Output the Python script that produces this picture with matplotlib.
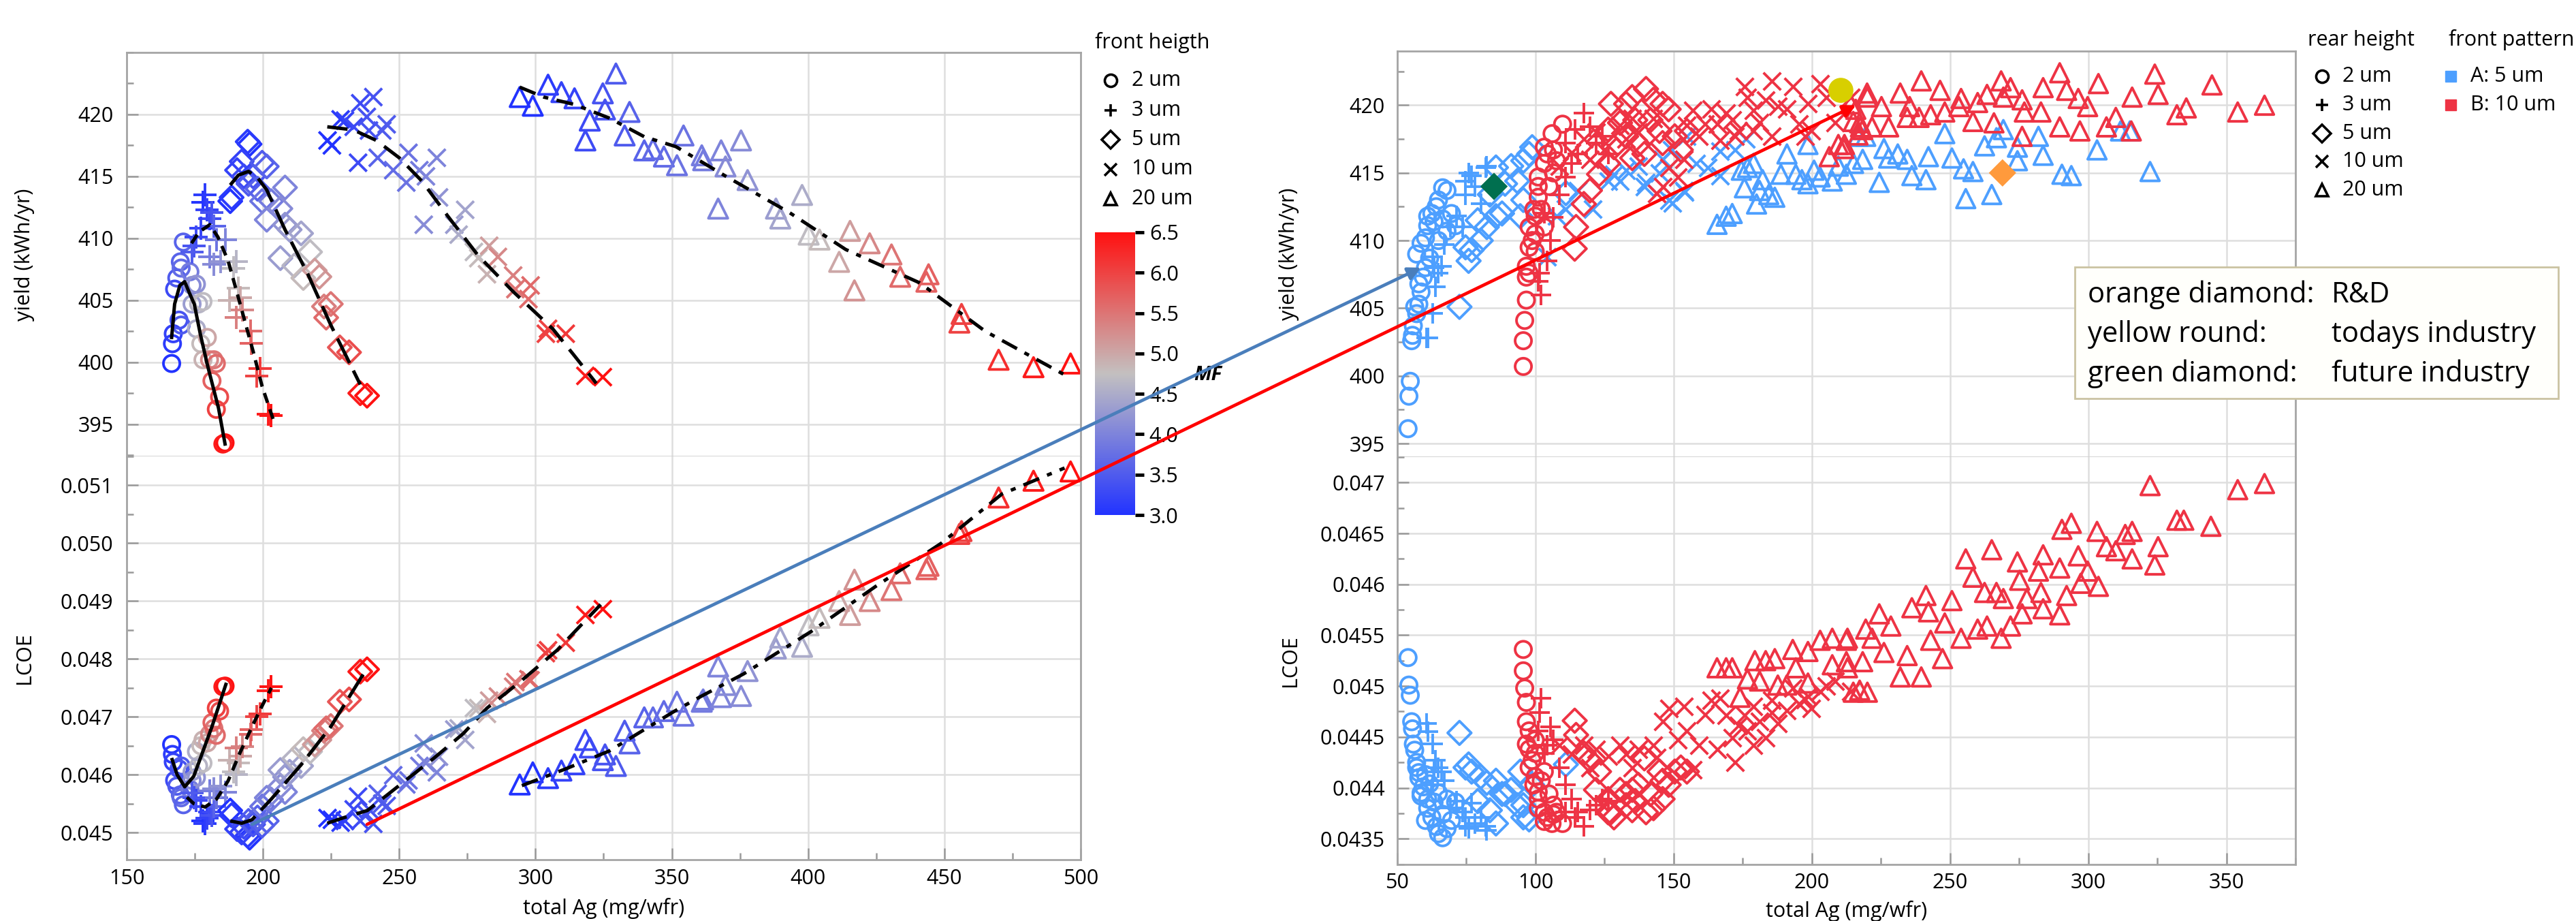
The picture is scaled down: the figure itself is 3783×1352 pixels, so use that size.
import numpy as np
import matplotlib
matplotlib.use("Agg")
import matplotlib.pyplot as plt
from matplotlib.colors import LinearSegmentedColormap, Normalize
from matplotlib.cm import ScalarMappable
from matplotlib.lines import Line2D
from matplotlib.patches import Rectangle, ConnectionPatch
from matplotlib.ticker import MultipleLocator, FixedLocator, FuncFormatter, FormatStrFormatter

W, H = 3783, 1352
plt.rcParams['font.family'] = ['Open Sans', 'DejaVu Sans']
plt.rcParams['font.size'] = 22

# ---------------- left panel: front height groups (total Ag, yield, LCOE, MF)
fh_2um = [(166.5, 399.9, 0.04652, 3.0), (166.8, 401.5, 0.04635, 3.1), (167.1, 402.3, 0.04622, 3.2),
          (167.6, 405.9, 0.04590, 3.3), (168.4, 406.8, 0.04580, 3.5), (169.2, 403.4, 0.04610, 3.4),
          (169.7, 408.1, 0.04565, 3.6), (170.0, 407.6, 0.04560, 3.7), (170.8, 409.7, 0.04548, 3.6),
          (170.0, 403.0, 0.04615, 3.5), (173.2, 407.3, 0.04575, 3.9), (174.0, 406.2, 0.04590, 4.1),
          (175.6, 406.3, 0.04595, 4.2), (174.0, 404.7, 0.04605, 4.3), (176.4, 404.7, 0.04615, 4.6),
          (178.0, 404.9, 0.04620, 4.7), (175.6, 402.7, 0.04640, 4.5), (177.2, 401.5, 0.04650, 4.8),
          (178.0, 400.2, 0.04660, 4.9), (179.6, 402.0, 0.04655, 5.0), (180.4, 400.2, 0.04670, 5.3),
          (182.0, 400.2, 0.04680, 5.5), (182.9, 399.9, 0.04668, 5.6), (181.3, 398.5, 0.04690, 5.7),
          (184.1, 397.2, 0.04710, 5.9), (182.9, 396.2, 0.04715, 6.0), (186.1, 393.5, 0.04753, 6.5),
          (185.3, 393.4, 0.04752, 6.4)]
fh_3um = [(178.0, 412.9, 0.04520, 3.0), (178.8, 413.5, 0.04515, 3.1), (179.6, 412.3, 0.04525, 3.2),
          (180.4, 411.6, 0.04535, 3.3), (177.2, 410.8, 0.04545, 3.2), (175.6, 410.1, 0.04555, 3.3),
          (174.8, 409.4, 0.04560, 3.4), (174.0, 408.9, 0.04568, 3.5), (181.3, 412.1, 0.04530, 3.4),
          (182.1, 411.0, 0.04545, 3.6), (182.9, 409.9, 0.04560, 3.8), (186.1, 409.9, 0.04570, 4.0),
          (180.4, 408.5, 0.04572, 3.9), (182.1, 407.9, 0.04575, 4.1), (184.5, 408.1, 0.04580, 4.2),
          (190.1, 408.1, 0.04600, 4.6), (189.3, 407.6, 0.04605, 4.7), (190.9, 406.0, 0.04620, 4.8),
          (187.7, 405.0, 0.04625, 4.9), (191.7, 405.2, 0.04632, 5.0), (192.5, 404.2, 0.04648, 5.3),
          (190.1, 403.6, 0.04646, 5.4), (195.4, 402.5, 0.04670, 5.6), (195.8, 401.5, 0.04678, 5.7),
          (198.9, 399.5, 0.04705, 6.1), (197.6, 398.9, 0.04700, 6.0), (202.9, 395.7, 0.04752, 6.5),
          (202.0, 395.8, 0.04745, 6.4)]
fh_5um = [(195.1, 417.6, 0.04491, 3.0), (194.4, 417.8, 0.04495, 3.1), (188.0, 413.0, 0.04538, 3.0),
          (188.5, 413.3, 0.04530, 3.1), (190.5, 415.5, 0.04506, 3.2), (193.0, 415.0, 0.04510, 3.3),
          (192.2, 416.2, 0.04500, 3.2), (196.4, 415.0, 0.04514, 3.4), (199.7, 416.1, 0.04512, 3.5),
          (201.4, 415.8, 0.04520, 3.6), (194.7, 414.4, 0.04520, 3.5), (198.0, 414.0, 0.04526, 3.6),
          (199.7, 413.0, 0.04545, 3.8), (203.0, 413.0, 0.04557, 3.9), (208.1, 414.1, 0.04570, 4.0),
          (201.4, 411.5, 0.04560, 4.0), (206.4, 412.4, 0.04580, 4.1), (208.1, 411.1, 0.04596, 4.2),
          (206.4, 408.4, 0.04608, 4.3), (209.8, 410.7, 0.04605, 4.3), (214.0, 410.4, 0.04615, 4.4),
          (211.5, 407.8, 0.04628, 4.6), (214.8, 406.8, 0.04644, 4.8), (217.3, 408.9, 0.04640, 4.7),
          (219.0, 407.4, 0.04652, 5.1), (220.7, 406.9, 0.04660, 5.2), (222.4, 404.5, 0.04676, 5.4),
          (224.9, 404.7, 0.04684, 5.5), (223.2, 403.6, 0.04680, 5.6), (228.2, 401.2, 0.04726, 5.8),
          (231.6, 400.8, 0.04730, 5.9), (235.7, 397.5, 0.04778, 6.4), (238.2, 397.3, 0.04782, 6.5)]
fh_10um = [(223.7, 417.9, 0.04525, 3.0), (225.3, 417.5, 0.04522, 3.0), (228.5, 419.6, 0.04517, 3.1),
           (230.1, 419.5, 0.04520, 3.2), (235.7, 420.9, 0.04520, 3.3), (240.5, 421.4, 0.04515, 3.4),
           (238.1, 419.8, 0.04531, 3.4), (233.3, 419.0, 0.04540, 3.3), (245.4, 419.2, 0.04546, 3.5),
           (243.8, 418.7, 0.04550, 3.5), (238.9, 418.7, 0.04540, 3.4), (234.9, 416.1, 0.04562, 3.3),
           (242.1, 416.5, 0.04567, 3.6), (247.8, 415.5, 0.04599, 3.7), (252.6, 414.5, 0.04583, 3.8),
           (253.4, 416.9, 0.04590, 3.8), (257.4, 415.5, 0.04615, 3.9), (259.8, 415.0, 0.04620, 4.0),
           (263.8, 416.5, 0.04604, 4.0), (259.0, 411.1, 0.04654, 4.1), (264.6, 413.3, 0.04631, 4.2),
           (270.2, 411.1, 0.04678, 4.3), (274.2, 412.3, 0.04660, 4.4), (271.8, 410.3, 0.04680, 4.5),
           (277.4, 408.9, 0.04715, 4.7), (279.0, 408.4, 0.04715, 4.8), (282.2, 407.1, 0.04705, 4.9),
           (283.0, 409.4, 0.04728, 5.1), (286.2, 408.5, 0.04735, 5.3), (291.8, 407.0, 0.04752, 5.4),
           (298.2, 406.2, 0.04763, 5.6), (297.4, 405.1, 0.04765, 5.6), (292.6, 405.9, 0.04760, 5.5),
           (304.6, 402.7, 0.04815, 6.0), (303.8, 402.3, 0.04810, 6.0), (311.1, 402.3, 0.04828, 6.1),
           (318.3, 398.9, 0.04876, 6.4), (324.7, 398.8, 0.04886, 6.5)]
fh_20um = [(294.2, 421.4, 0.04583, 3.0), (299.0, 420.7, 0.04604, 3.0), (304.6, 422.4, 0.04594, 3.1),
           (309.5, 421.8, 0.04607, 3.2), (314.3, 421.3, 0.04618, 3.2), (318.3, 417.9, 0.04660, 3.3),
           (319.9, 419.5, 0.04647, 3.3), (324.7, 421.7, 0.04625, 3.4), (325.5, 420.4, 0.04635, 3.4),
           (329.5, 423.3, 0.04615, 3.5), (332.7, 418.3, 0.04676, 3.5), (334.5, 420.2, 0.04654, 3.6),
           (339.9, 417.1, 0.04699, 3.6), (343.1, 417.2, 0.04699, 3.7), (347.1, 416.6, 0.04710, 3.7),
           (351.9, 415.9, 0.04726, 3.8), (354.3, 418.3, 0.04702, 3.8), (361.0, 416.7, 0.04726, 3.9),
           (361.5, 416.3, 0.04730, 3.9), (368.1, 417.1, 0.04734, 4.0), (367.0, 412.4, 0.04787, 4.0),
           (369.7, 415.8, 0.04755, 4.1), (375.4, 417.9, 0.04736, 4.1), (377.8, 414.7, 0.04779, 4.2),
           (388.2, 412.4, 0.04818, 4.3), (389.8, 411.6, 0.04837, 4.4), (397.8, 413.5, 0.04821, 4.5),
           (400.2, 410.3, 0.04858, 4.7), (404.2, 409.9, 0.04871, 4.8), (411.4, 408.1, 0.04900, 5.0),
           (415.4, 410.6, 0.04876, 5.1), (417.0, 405.8, 0.04937, 5.2), (422.6, 409.6, 0.04900, 5.3),
           (430.6, 408.7, 0.04919, 5.5), (433.8, 406.9, 0.04948, 5.6), (444.2, 407.1, 0.04961, 5.7),
           (443.4, 406.5, 0.04955, 5.7), (456.3, 403.9, 0.05021, 6.0), (455.5, 403.2, 0.05016, 6.0),
           (469.9, 400.2, 0.05079, 6.2), (482.7, 399.6, 0.05108, 6.4), (496.3, 399.9, 0.05124, 6.5)]

# smoothing fits drawn in black
fit_2um_yield = [(166.5, 402.0), (167.6, 404.7), (169.5, 406.2), (171.3, 406.5), (173.0, 405.6),
                 (174.8, 404.7), (177.0, 402.3), (179.6, 399.8), (183.7, 396.3), (186.1, 393.4)]
fit_2um_lcoe = [(166.7, 0.04626), (168.5, 0.04600), (171.3, 0.04579), (174.6, 0.04597),
                (177.1, 0.04629), (181.3, 0.04683), (186.4, 0.04756)]
fit_3um_yield = [(173.8, 409.6), (176.5, 410.5), (180.5, 411.1), (183.5, 410.1), (187.2, 408.2),
                 (190.0, 406.0), (193.0, 403.6), (196.5, 400.8), (199.7, 398.05), (203.9, 395.3)]
fit_3um_lcoe = [(172.1, 0.04561), (174.6, 0.04550), (178.8, 0.04544), (183.0, 0.04558),
                (187.2, 0.04589), (191.4, 0.04636), (196.4, 0.04687), (199.7, 0.04719), (203.1, 0.04750)]
fit_5um_yield = [(188.0, 414.3), (191.0, 415.1), (194.7, 415.4), (198.0, 414.9), (201.4, 413.9),
                 (208.1, 410.7), (216.5, 407.1), (224.9, 403.0), (235.7, 398.2)]
fit_5um_lcoe = [(188.0, 0.04520), (192.2, 0.04516), (196.0, 0.04522), (203.1, 0.04558),
                (214.0, 0.04617), (224.9, 0.04683), (238.3, 0.04785)]
fit_10um_yield = [(223.6, 419.0), (233.2, 418.75), (241.6, 417.9), (250.0, 416.5), (258.4, 414.6),
                  (267.8, 411.8), (279.0, 408.6), (291.8, 405.7), (306.3, 402.7), (314.0, 400.6),
                  (322.3, 398.3)]
fit_10um_lcoe = [(223.6, 0.04516), (229.9, 0.04526), (238.3, 0.04538), (246.7, 0.04569),
                 (254.2, 0.04597), (262.6, 0.04628), (273.5, 0.04671), (282.2, 0.04715),
                 (295.0, 0.04763), (307.9, 0.04815), (323.9, 0.04894)]
fit_20um_yield = [(294.2, 422.2), (303.0, 421.4), (314.3, 420.8), (327.1, 419.7), (339.9, 418.2),
                  (351.5, 417.4), (369.9, 415.0), (393.0, 412.1), (413.8, 409.1), (441.0, 406.4),
                  (465.0, 402.5), (494.0, 399.0)]
fit_20um_lcoe = [(295.0, 0.04581), (311.1, 0.04610), (327.1, 0.04641), (351.1, 0.04710),
                 (361.0, 0.04736), (376.3, 0.04774), (401.0, 0.04847), (425.0, 0.04926),
                 (448.9, 0.05000), (471.1, 0.05085), (494.1, 0.05130)]

front_labels = ['2 um', '3 um', '5 um', '10 um', '20 um']
shapes = ['o', '+', 'D', 'x', '^']

# ---------------- right panel: pattern A (5 um) / B (10 um), (total Ag, yield, LCOE)
A_2um = [(53.9, 396.1, 0.04528), (54.2, 398.5, 0.04501), (54.7, 399.6, 0.04491), (55.2, 402.6, 0.04465),
         (55.5, 403.0, 0.04458), (55.8, 403.7, 0.04443), (56.3, 405.1, 0.04437), (57.0, 404.6, 0.04425),
         (57.8, 405.3, 0.04410), (58.6, 406.2, 0.04392), (57.8, 406.8, 0.04415), (59.4, 407.3, 0.04401),
         (57.0, 409.0, 0.04420), (58.6, 409.8, 0.04395), (60.2, 410.2, 0.04368), (61.0, 411.1, 0.04389),
         (61.0, 411.8, 0.04380), (62.5, 412.0, 0.04371), (64.1, 412.5, 0.04362), (64.9, 413.0, 0.04355),
         (66.4, 413.9, 0.04351), (68.0, 413.7, 0.04360), (63.3, 411.4, 0.04386), (66.4, 411.6, 0.04374),
         (69.6, 412.0, 0.04368), (68.0, 410.7, 0.04389), (64.9, 410.0, 0.04395), (71.1, 411.1, 0.04386),
         (61.7, 408.7, 0.04404), (60.2, 408.0, 0.04413)]
A_3um = [(60.5, 402.8, 0.04463), (62.7, 404.6, 0.04443), (63.8, 406.6, 0.04427), (65.9, 408.1, 0.04416),
         (64.9, 407.6, 0.04420), (67.0, 409.7, 0.04407), (71.4, 411.8, 0.04387), (75.8, 415.0, 0.04360),
         (82.4, 415.5, 0.04358), (78.0, 414.0, 0.04365), (74.7, 413.4, 0.04371), (73.6, 411.0, 0.04376),
         (80.2, 412.7, 0.04371), (69.2, 411.0, 0.04380), (62.7, 408.8, 0.04403), (74.7, 414.4, 0.04362),
         (82.1, 415.4, 0.04362), (76.9, 414.8, 0.04385), (63.3, 408.0, 0.04416), (61.0, 402.8, 0.04455)]
A_5um = [(72.5, 405.1, 0.04454), (75.8, 408.5, 0.04423), (76.9, 409.3, 0.04416), (80.2, 410.0, 0.04411),
         (74.7, 409.5, 0.04420), (82.4, 411.0, 0.04405), (85.7, 411.8, 0.04407), (87.9, 412.0, 0.04394),
         (94.5, 411.8, 0.04416), (95.6, 413.0, 0.04383), (93.4, 414.4, 0.04383), (91.2, 415.5, 0.04398),
         (97.7, 416.4, 0.04369), (98.8, 416.9, 0.04403), (95.6, 415.9, 0.04371), (85.7, 415.4, 0.04365),
         (89.0, 414.2, 0.04394), (83.5, 413.4, 0.04378), (79.1, 411.5, 0.04387), (111.0, 413.5, 0.04423)]
A_10um = [(104.3, 408.8), (107.6, 411.8), (110.9, 412.3), (115.3, 413.7), (120.8, 412.3), (126.3, 414.4),
          (128.4, 414.9), (130.6, 414.4), (132.8, 415.2), (137.2, 415.5), (139.4, 414.0), (140.0, 414.3),
          (144.9, 415.0), (146.0, 416.0), (148.2, 413.0), (149.3, 416.7), (149.5, 412.8), (153.7, 413.7),
          (154.1, 413.6), (154.8, 417.7), (158.1, 415.7), (162.4, 415.4), (166.7, 414.8), (166.8, 416.6),
          (172.3, 416.7), (176.1, 417.5)]
A_20um = [(165.7, 411.2), (169.0, 411.8), (171.2, 412.0), (174.5, 415.2), (175.6, 413.9), (176.7, 415.4),
          (178.9, 415.7), (180.0, 412.7), (181.1, 413.7), (182.2, 414.5), (184.4, 413.4), (186.6, 413.2),
          (188.8, 414.9), (191.0, 416.4), (194.2, 414.9), (196.4, 414.5), (198.6, 414.2), (198.6, 417.1),
          (200.8, 415.2), (203.0, 414.7), (207.4, 414.4), (209.6, 415.5), (212.5, 414.9), (215.1, 415.7),
          (216.7, 417.7), (218.4, 416.0), (219.5, 417.7), (224.4, 414.3), (226.1, 416.8), (227.8, 416.1),
          (231.1, 416.4), (234.5, 416.0), (236.2, 414.8), (241.3, 414.5), (242.2, 416.2), (248.1, 417.9),
          (250.7, 416.1), (254.9, 415.3), (255.7, 413.1), (258.3, 415.1), (262.5, 417.0), (265.1, 413.4),
          (266.8, 417.6), (269.3, 418.2), (274.4, 415.9), (274.4, 416.9), (282.0, 417.7), (283.7, 416.3),
          (290.5, 414.9), (293.9, 414.8), (303.2, 416.7), (311.7, 418.1), (315.1, 418.1), (322.4, 415.1)]
B_2um = [(95.6, 400.7, 0.04536), (95.6, 402.6, 0.04515), (96.1, 404.1, 0.04498), (96.7, 405.6, 0.04484),
         (96.7, 407.3, 0.04465), (97.7, 407.6, 0.04456), (96.7, 408.1, 0.04443), (97.7, 409.5, 0.04438),
         (98.8, 410.0, 0.04427), (97.7, 411.0, 0.04420), (99.9, 411.8, 0.04411), (99.4, 412.3, 0.04403),
         (101.0, 413.2, 0.04396), (101.0, 414.0, 0.04389), (101.0, 414.7, 0.04380), (103.2, 415.7, 0.04376),
         (104.3, 416.4, 0.04371), (106.0, 417.9, 0.04365), (109.8, 418.6, 0.04365), (103.2, 416.9, 0.04367),
         (106.5, 415.0, 0.04383), (104.9, 414.0, 0.04394), (102.1, 412.3, 0.04407), (99.9, 409.2, 0.04447),
         (103.2, 411.0, 0.04416), (107.6, 415.9, 0.04376), (106.5, 416.7, 0.04374), (99.9, 410.5, 0.04434)]
B_3um = [(102.1, 406.0, 0.04488), (101.6, 407.6, 0.04474), (105.4, 410.0, 0.04460), (106.5, 411.7, 0.04447),
         (103.2, 412.0, 0.04434), (108.7, 413.4, 0.04420), (110.9, 414.7, 0.04403), (113.1, 415.7, 0.04389),
         (115.3, 416.4, 0.04376), (117.5, 419.4, 0.04362), (114.2, 418.2, 0.04371), (119.7, 418.4, 0.04378),
         (121.9, 417.2, 0.04383), (124.1, 417.7, 0.04389), (126.3, 416.4, 0.04387), (110.9, 417.2, 0.04376),
         (104.3, 408.5, 0.04442), (101.0, 407.0, 0.04456)]
B_5um = [(114.2, 409.4, 0.04466), (114.7, 411.0, 0.04452), (117.5, 412.7, 0.04434), (119.7, 413.7, 0.04427),
         (126.3, 415.7, 0.04389), (128.4, 416.9, 0.04371), (127.3, 420.1, 0.04376), (132.8, 420.1, 0.04383),
         (135.0, 420.6, 0.04378), (140.0, 421.2, 0.04376), (142.7, 420.4, 0.04380), (146.0, 420.1, 0.04389),
         (148.2, 419.7, 0.04403), (144.9, 418.1, 0.04416), (150.4, 417.7, 0.04416), (152.6, 416.7, 0.04420),
         (137.2, 417.1, 0.04403), (135.0, 416.1, 0.04398), (139.4, 416.4, 0.04429), (132.8, 417.7, 0.04394),
         (130.6, 418.7, 0.04398), (121.9, 416.4, 0.04398), (123.0, 414.9, 0.04416), (126.3, 418.2, 0.04376),
         (146.0, 417.2, 0.04407), (154.8, 418.1, 0.04416), (141.6, 418.9, 0.04394), (136.1, 418.9, 0.04387)]
B_10um = [(108.7, 415.5, 0.04442), (113.1, 416.5, 0.04433), (117.5, 417.5, 0.04442), (119.7, 416.0, 0.04420),
          (121.9, 418.0, 0.04438), (126.3, 417.0, 0.04431), (130.6, 418.5, 0.04442), (132.8, 417.5, 0.04433),
          (135.0, 419.0, 0.04420), (137.2, 418.0, 0.04438), (142.7, 419.0, 0.04442), (143.8, 413.5, 0.04430),
          (146.0, 414.0, 0.04465), (148.2, 415.4, 0.04478), (151.5, 414.7, 0.04447), (153.7, 416.0, 0.04480),
          (154.8, 418.5, 0.04456), (157.0, 419.6, 0.04418), (159.1, 417.7, 0.04442), (161.3, 418.6, 0.04472),
          (163.5, 419.7, 0.04486), (165.7, 418.6, 0.04438), (166.8, 417.4, 0.04488), (169.0, 419.4, 0.04471),
          (171.2, 418.9, 0.04449), (172.3, 417.7, 0.04425), (173.4, 418.1, 0.04461), (175.6, 421.4, 0.04471),
          (176.7, 420.6, 0.04456), (178.9, 419.6, 0.04480), (178.9, 418.1, 0.04442), (181.1, 418.7, 0.04465),
          (183.3, 420.4, 0.04449), (185.5, 421.8, 0.04486), (185.5, 417.7, 0.04474), (187.7, 419.9, 0.04463),
          (190.9, 419.7, 0.04476), (193.1, 421.4, 0.04498), (195.3, 418.6, 0.04483), (197.5, 417.7, 0.04487),
          (198.6, 420.1, 0.04490), (199.7, 418.1, 0.04478), (203.0, 421.6, 0.04495), (205.2, 420.6, 0.04500),
          (208.5, 418.7, 0.04505), (214.2, 420.6, 0.04495)]
B_20um_yield = [(206.3, 416.2), (209.6, 417.1), (211.8, 417.1), (214.0, 420.1), (217.3, 418.7), (220.0, 420.9),
                (218.4, 418.2), (215.9, 419.7), (215.0, 418.8), (220.1, 420.6), (217.6, 418.4), (221.8, 418.4),
                (225.2, 419.9), (227.8, 418.4), (232.0, 420.9), (235.4, 419.9), (234.5, 419.1), (239.6, 421.8),
                (238.8, 419.1), (243.0, 419.3), (246.4, 421.1), (248.1, 419.5), (254.0, 420.5), (253.2, 419.9),
                (258.3, 418.8), (260.0, 420.2), (263.4, 420.8), (265.9, 418.7), (268.5, 421.8), (269.3, 420.6),
                (271.9, 421.3), (276.1, 420.4), (276.9, 419.5), (276.1, 417.7), (282.9, 419.5), (283.7, 421.3),
                (289.7, 422.4), (289.7, 418.4), (292.2, 421.1), (296.4, 420.5), (297.0, 418.1), (299.8, 419.9),
                (303.7, 421.6), (306.6, 418.4), (310.0, 419.1), (315.9, 420.6), (315.6, 418.1), (324.1, 422.3),
                (325.3, 420.8), (332.1, 419.3), (335.5, 419.8), (344.8, 421.5), (354.1, 419.5), (363.8, 420.0),
                (216.7, 417.8), (211.6, 416.8)]
B_20um_lcoe = [(165.7, 0.04518), (169.0, 0.04518), (171.2, 0.04518), (174.0, 0.04489), (176.7, 0.04507),
               (179.4, 0.04525), (181.1, 0.04505), (183.3, 0.04525), (186.6, 0.04527), (187.7, 0.04501),
               (190.9, 0.04501), (193.1, 0.04536), (194.2, 0.04518), (198.6, 0.04534), (198.6, 0.04503),
               (203.0, 0.04545), (207.4, 0.04547), (207.4, 0.04521), (212.9, 0.04547), (212.9, 0.04518),
               (217.3, 0.04496), (219.5, 0.04556), (212.5, 0.04545), (212.5, 0.04524), (215.0, 0.04494),
               (220.1, 0.04494), (218.4, 0.04524), (221.8, 0.04547), (224.4, 0.04571), (226.1, 0.04533),
               (228.6, 0.04559), (232.0, 0.04509), (234.5, 0.04530), (236.2, 0.04577), (239.6, 0.04509),
               (241.3, 0.04589), (243.0, 0.04545), (242.2, 0.04573), (247.3, 0.04527), (248.1, 0.04562),
               (250.7, 0.04584), (254.0, 0.04547), (255.7, 0.04625), (258.3, 0.04607), (260.0, 0.04556),
               (262.5, 0.04592), (263.4, 0.04559), (265.1, 0.04634), (266.8, 0.04592), (268.5, 0.04547),
               (269.3, 0.04586), (271.9, 0.04559), (274.4, 0.04622), (275.2, 0.04604), (276.1, 0.04571),
               (277.8, 0.04586), (282.0, 0.04613), (282.9, 0.04592), (283.7, 0.04629), (283.7, 0.04576),
               (289.7, 0.04616), (289.7, 0.04570), (292.2, 0.04589), (290.5, 0.04654), (293.9, 0.04660),
               (296.4, 0.04628), (297.3, 0.04601), (299.8, 0.04613), (303.2, 0.04652), (303.7, 0.04598),
               (306.6, 0.04637), (310.0, 0.04633), (313.4, 0.04649), (315.9, 0.04625), (315.9, 0.04652),
               (322.4, 0.04697), (324.1, 0.04619), (325.3, 0.04637), (332.1, 0.04663), (334.6, 0.04663),
               (344.4, 0.04657), (354.1, 0.04693), (363.8, 0.04699)]

# reference designs (total Ag, yield)
rnd_pt = [(269.0, 415.0)]
today_pt = [(210.5, 421.1)]
future_pt = [(85.0, 414.0)]
# links: from left LCOE minimum to right yield
link_blue = [(196.0, 0.04514), (58.6, 408.0)]
link_red = [(238.2, 0.04514), (216.0, 420.0)]

rear_labels = ['2 um', '3 um', '5 um', '10 um', '20 um']
pattern_labels = ['A: 5 um', 'B: 10 um']
col_A, col_B = '#4d9fff', '#ee3344'

mf_min, mf_max = 3.0, 6.5
cmap = LinearSegmentedColormap.from_list('mf', ['#2233ff', '#c3c0c0', '#ff1111'])
norm = Normalize(mf_min, mf_max)

size_left = {'o': 300, '+': 600, 'D': 300, 'x': 340, '^': 420}
size_right = {'o': 300, '+': 480, 'D': 310, 'x': 340, '^': 390}
LW = 2.8


def fx(px):
    return px / W


def fy(py):
    return 1 - py / H


def scat(ax, x, y, mk, cols, s, z=2):
    if mk in ('+', 'x'):
        ax.scatter(x, y, marker=mk, c=cols, s=s, linewidths=LW, zorder=z)
    else:
        ax.scatter(x, y, marker=mk, facecolors='none', edgecolors=cols, s=s, linewidths=LW, zorder=z)


def style(ax):
    ax.set_axisbelow(True)
    ax.grid(True, which='major', color='#dedede', lw=1.8)
    for sp in ax.spines.values():
        sp.set_color('#a5a5a5')
        sp.set_linewidth(2.0)
    ax.tick_params(which='both', direction='in', colors='#999999', labelcolor='black',
                   labelsize=22, width=1.8, top=False, right=False)
    ax.tick_params(which='major', length=12)
    ax.tick_params(which='minor', length=7)


fig = plt.figure(figsize=(W / 100, H / 100), dpi=100)

# ---- left axes
axLt = fig.add_axes([fx(186), fy(670), fx(1587) - fx(186), fy(77) - fy(670)])
axLb = fig.add_axes([fx(186), fy(1262), fx(1587) - fx(186), fy(670) - fy(1262)], sharex=axLt)
axLt.set_xlim(150, 500)
axLt.set_ylim(392.4, 425)
axLb.set_ylim(0.04453, 0.0515)

left_groups = [(fh_2um, fit_2um_yield, fit_2um_lcoe, '-'),
               (fh_3um, fit_3um_yield, fit_3um_lcoe, (0, (3, 2))),
               (fh_5um, fit_5um_yield, fit_5um_lcoe, (0, (8, 2.5))),
               (fh_10um, fit_10um_yield, fit_10um_lcoe, (0, (6, 3))),
               (fh_20um, fit_20um_yield, fit_20um_lcoe, (0, (5, 2.5, 1.5, 2.5)))]
for (pts, fit_y, fit_l, ls), mk in zip(left_groups, shapes):
    x, yld, lc, mf = np.array(pts).T
    cols = cmap(norm(mf))
    scat(axLt, x, yld, mk, cols, size_left[mk])
    scat(axLb, x, lc, mk, cols, size_left[mk])
    a = np.array(fit_y)
    axLt.plot(a[:, 0], a[:, 1], color='black', lw=3.6, ls=ls, zorder=4)
    a = np.array(fit_l)
    axLb.plot(a[:, 0], a[:, 1], color='black', lw=3.6, ls=ls, zorder=4)

for ax in (axLt, axLb):
    style(ax)
    ax.xaxis.set_major_locator(MultipleLocator(50))
    ax.xaxis.set_minor_locator(MultipleLocator(25))
    ax.tick_params(axis='y', pad=14)
axLt.yaxis.set_major_locator(FixedLocator([395, 400, 405, 410, 415, 420]))
axLt.yaxis.set_minor_locator(MultipleLocator(2.5))
axLb.yaxis.set_major_locator(MultipleLocator(0.001))
axLb.yaxis.set_minor_locator(MultipleLocator(0.0005))
axLb.yaxis.set_major_formatter(FormatStrFormatter('%.3f'))
axLt.tick_params(axis='x', which='both', bottom=False, labelbottom=False)
axLt.spines['bottom'].set_color('#d0d0d0')
axLb.spines['top'].set_visible(False)
axLb.tick_params(axis='x', pad=9)
axLt.set_ylabel('yield (kWh/yr)', fontsize=22)
axLt.yaxis.set_label_coords(-0.0964, 0.5)
axLb.set_ylabel('LCOE', fontsize=22)
axLb.yaxis.set_label_coords(-0.0964, 0.5)
axLb.set_xlabel('total Ag (mg/wfr)', fontsize=22)
axLb.xaxis.set_label_coords(0.5, -0.095)

# ---- right axes
axRt = fig.add_axes([fx(2052), fy(671), fx(3371) - fx(2052), fy(75) - fy(671)])
axRb = fig.add_axes([fx(2052), fy(1268.6), fx(3371) - fx(2052), fy(671) - fy(1268.6)], sharex=axRt)
axRt.set_xlim(50, 375)
axRt.set_ylim(394, 424)
axRb.set_ylim(0.04325, 0.04725)

for grp, mk in zip([A_2um, A_3um, A_5um], shapes[:3]):
    a = np.array(grp)
    scat(axRt, a[:, 0], a[:, 1], mk, col_A, size_right[mk])
    scat(axRb, a[:, 0], a[:, 2], mk, col_A, size_right[mk])
for grp, mk in zip([A_10um, A_20um], shapes[3:]):
    a = np.array(grp)
    scat(axRt, a[:, 0], a[:, 1], mk, col_A, size_right[mk])
for grp, mk in zip([B_2um, B_3um, B_5um, B_10um], shapes[:4]):
    a = np.array(grp)
    scat(axRt, a[:, 0], a[:, 1], mk, col_B, size_right[mk], z=3)
    scat(axRb, a[:, 0], a[:, 2], mk, col_B, size_right[mk], z=3)
a = np.array(B_20um_yield)
scat(axRt, a[:, 0], a[:, 1], '^', col_B, size_right['^'], z=3)
a = np.array(B_20um_lcoe)
scat(axRb, a[:, 0], a[:, 1], '^', col_B, size_right['^'], z=3)

for pts, c, mk, s in [(rnd_pt, '#ff9a3c', 'D', 420), (today_pt, '#d8cf00', 'o', 700),
                      (future_pt, '#006f4f', 'D', 420)]:
    a = np.array(pts)
    axRt.scatter(a[:, 0], a[:, 1], marker=mk, s=s, color=c, edgecolors='none', zorder=6)

for ax in (axRt, axRb):
    style(ax)
    ax.xaxis.set_major_locator(MultipleLocator(50))
    ax.xaxis.set_minor_locator(MultipleLocator(25))
    ax.tick_params(axis='y', pad=13)
axRt.yaxis.set_major_locator(MultipleLocator(5))
axRt.yaxis.set_minor_locator(MultipleLocator(2.5))
axRb.yaxis.set_major_locator(MultipleLocator(0.0005))
axRb.yaxis.set_minor_locator(MultipleLocator(0.00025))
axRb.yaxis.set_major_formatter(FuncFormatter(lambda v, p: '%g' % round(v, 5)))
axRt.tick_params(axis='x', which='both', bottom=False, labelbottom=False)
axRt.spines['bottom'].set_color('#d0d0d0')
axRb.spines['top'].set_visible(False)
axRb.tick_params(axis='x', pad=9)
axRt.set_ylabel('yield (kWh/yr)', fontsize=22)
axRt.yaxis.set_label_coords(-0.109, 0.5)
axRb.set_ylabel('LCOE', fontsize=22)
axRb.yaxis.set_label_coords(-0.108, 0.5)
axRb.set_xlabel('total Ag (mg/wfr)', fontsize=22)
axRb.xaxis.set_label_coords(0.5, -0.09)

# ---- colorbar for MF
cax = fig.add_axes([fx(1608), fy(756), fx(1667) - fx(1608), fy(341) - fy(756)])
cb = fig.colorbar(ScalarMappable(norm=norm, cmap=cmap), cax=cax)
cb.outline.set_visible(False)
cb_ticks = np.arange(3.0, 6.51, 0.5)
cb.set_ticks(cb_ticks)
cb.ax.yaxis.set_major_formatter(FormatStrFormatter('%.1f'))
cax.tick_params(length=9, width=3.5, labelsize=22, pad=6)
for t, tk in zip(cb_ticks, cax.yaxis.get_major_ticks()):
    tk.tick1line.set_color(cmap(norm(t)))
    tk.tick2line.set_color(cmap(norm(t)))
fig.text(fx(1774), fy(550), 'MF', fontsize=21, fontweight='bold', fontstyle='italic',
         ha='center', va='center')

# ---- legends
fig.text(fx(1608), fy(62), 'front heigth', fontsize=22, ha='left', va='center')
for i, (mk, lab) in enumerate(zip(shapes, front_labels)):
    yy = fy(118 + i * 43.5)
    fig.add_artist(Line2D([fx(1631)], [yy], transform=fig.transFigure, marker=mk, ms=13,
                          mfc='none', mec='black', mew=2.6, ls='none'))
    fig.text(fx(1662), yy, lab, fontsize=22, ha='left', va='center')

fig.text(fx(3389), fy(59), 'rear height', fontsize=22, ha='left', va='center')
for i, (mk, lab) in enumerate(zip(shapes, rear_labels)):
    yy = fy(112 + i * 41.8)
    fig.add_artist(Line2D([fx(3410)], [yy], transform=fig.transFigure, marker=mk, ms=13,
                          mfc='none', mec='black', mew=2.6, ls='none'))
    fig.text(fx(3440), yy, lab, fontsize=22, ha='left', va='center')
fig.text(fx(3596), fy(59), 'front pattern', fontsize=22, ha='left', va='center')
for i, (c, lab) in enumerate(zip([col_A, col_B], pattern_labels)):
    yy = fy(112 + i * 41.8)
    fig.add_artist(Line2D([fx(3599)], [yy], transform=fig.transFigure, marker='s', ms=11,
                          mfc=c, mec=c, ls='none'))
    fig.text(fx(3628), yy, lab, fontsize=22, ha='left', va='center')

# ---- note box
fig.add_artist(Rectangle((fx(3047), fy(585)), fx(3757) - fx(3047), fy(391.5) - fy(585),
                         transform=fig.transFigure, facecolor='#fffffb', edgecolor='#cbc3a2',
                         lw=2, zorder=8))
notes = [('orange diamond:', 'R&D'), ('yellow round:', 'todays industry'),
         ('green diamond:', 'future industry')]
for i, (k, v) in enumerate(notes):
    yy = fy(433 + i * 58)
    fig.text(fx(3066), yy, k, fontsize=30, ha='left', va='center', zorder=9)
    fig.text(fx(3424), yy, v, fontsize=30, ha='left', va='center', zorder=9)

# ---- connecting arrows
for link, c in [(link_blue, '#4a7ebb'), (link_red, '#ff0000')]:
    con = ConnectionPatch(xyA=link[0], coordsA=axLb.transData, xyB=link[1], coordsB=axRt.transData,
                          arrowstyle='-|>', color=c, lw=3.4, mutation_scale=28, zorder=7)
    fig.add_artist(con)

fig.savefig('out.png', dpi=100)
